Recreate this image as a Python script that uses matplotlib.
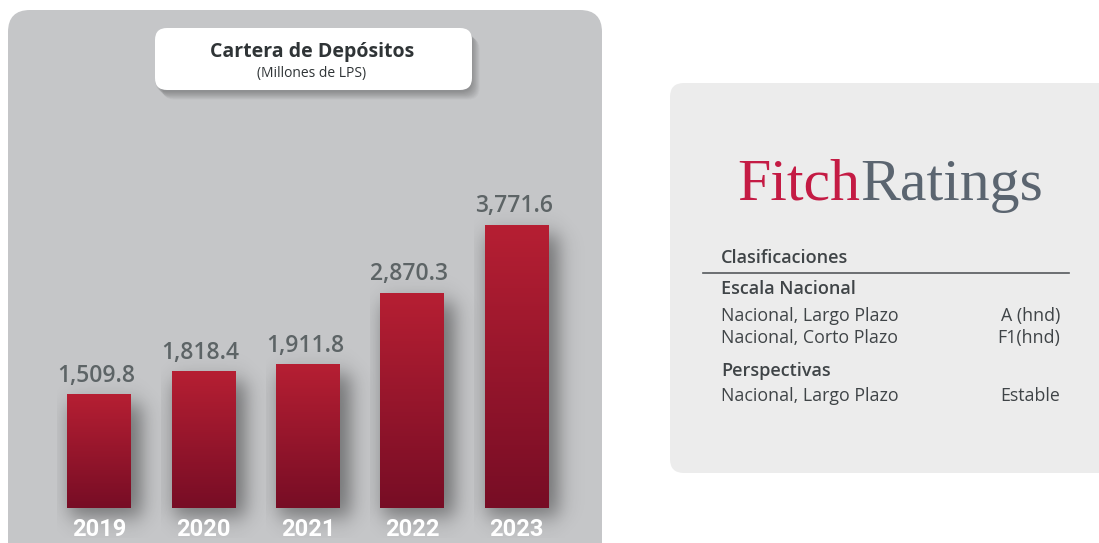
import numpy as np
import matplotlib.pyplot as plt
from matplotlib.patches import FancyBboxPatch
from matplotlib.colors import LinearSegmentedColormap

# data
years = ['2019', '2020', '2021', '2022', '2023']
depositos = [1509.8, 1818.4, 1911.8, 2870.3, 3771.6]

rating_rows = [('Nacional, Largo Plazo', 'A (hnd)'),
               ('Nacional, Corto Plazo', 'F1(hnd)')]
outlook_rows = [('Nacional, Largo Plazo', 'Estable')]

W, H = 1099, 543
fig = plt.figure(figsize=(W / 100, H / 100), dpi=100)
fig.patch.set_facecolor('white')

# background axes in pixel coords
bg = fig.add_axes([0, 0, 1, 1])
bg.set_xlim(0, W)
bg.set_ylim(H, 0)
bg.axis('off')

# left grey panel
bg.add_patch(FancyBboxPatch((8, 10), 594, 560, boxstyle='round,pad=0,rounding_size=22',
                            fc='#c5c6c8', ec='none', zorder=0))

# title box with soft shadow
for k in range(12):
    bg.add_patch(FancyBboxPatch((155 + k * 0.7, 30 + k * 0.7), 317, 62,
                                boxstyle='round,pad=0,rounding_size=12',
                                fc='black', ec='none', alpha=0.022, zorder=1))
bg.add_patch(FancyBboxPatch((155, 28), 317, 62, boxstyle='round,pad=0,rounding_size=12',
                            fc='white', ec='none', zorder=2))
bg.text(312, 52, 'Cartera de Depósitos', ha='center', va='center', fontsize=14,
        fontweight='bold', color='#2f3436', family='Open Sans', zorder=3)
bg.text(312, 74, '(Millones de LPS)', ha='center', va='center', fontsize=10,
        color='#2f3436', family='Open Sans', zorder=3)

# right info panel
bg.add_patch(FancyBboxPatch((670, 83), 460, 390, boxstyle='round,pad=0,rounding_size=14',
                            fc='#ececec', ec='none', zorder=0))
t1 = bg.text(737, 200, 'Fitch', ha='left', va='baseline', fontsize=43,
             color='#c41b44', family='Liberation Serif', zorder=3)
fig.canvas.draw()
bb = t1.get_window_extent().transformed(bg.transData.inverted())
bg.text(bb.x1, 200, 'Ratings', ha='left', va='baseline', fontsize=43,
        color='#5b6570', family='Liberation Serif', zorder=3)

txt = '#3f4447'
bg.text(721, 258, 'Clasificaciones', ha='left', va='center', fontsize=13,
        fontweight='semibold', color=txt, family='Open Sans')
bg.plot([703, 1069], [273, 273], color='#55595c', lw=1.2)
bg.text(721, 289, 'Escala Nacional', ha='left', va='center', fontsize=13,
        fontweight='semibold', color=txt, family='Open Sans')
for i, (lab, val) in enumerate(rating_rows):
    y = 316 + i * 22
    bg.text(721, y, lab, ha='left', va='center', fontsize=12.8, color=txt, family='Open Sans')
    bg.text(1060, y, val, ha='right', va='center', fontsize=12.8, color=txt, family='Open Sans')
bg.text(721, 371, 'Perspectivas', ha='left', va='center', fontsize=13,
        fontweight='semibold', color=txt, family='Open Sans')
for i, (lab, val) in enumerate(outlook_rows):
    y = 396 + i * 22
    bg.text(721, y, lab, ha='left', va='center', fontsize=12.8, color=txt, family='Open Sans')
    bg.text(1060, y, val, ha='right', va='center', fontsize=12.8, color=txt, family='Open Sans')

# bar chart axes
ax_left, ax_right = 47 / W, 569 / W
ax_bot, ax_top = (H - 508) / H, (H - 171) / H
ax = fig.add_axes([ax_left, ax_bot, ax_right - ax_left, ax_top - ax_bot])
ax.patch.set_alpha(0)
ax.axis('off')

x = np.arange(len(years))
bw = 0.613
bars = ax.bar(x, depositos, width=bw, color='none', zorder=3)

cmap = LinearSegmentedColormap.from_list('dep', ['#770d25', '#b61f33'])
grad = np.linspace(0, 1, 256).reshape(-1, 1)


def soft(t, lo, hi, s):
    return 0.5 * (np.tanh((t - lo) / s) - np.tanh((t - hi) / s))


for b, v, yr in zip(bars, depositos, years):
    x0, w, h = b.get_x(), b.get_width(), b.get_height()
    # soft blurred shadow, offset to the right
    sx0, sx1 = x0 - 0.1, x0 + w + 0.55
    sy0, sy1 = -400, h + 250
    xs = np.linspace(sx0, sx1, 120)
    ys = np.linspace(sy0, sy1, 160)
    XX, YY = np.meshgrid(xs, ys)
    a = 0.42 * soft(XX, x0 + 0.02, x0 + w + 0.1, 0.11) * soft(YY, -120, h - 120, 170)
    rgba = np.zeros(XX.shape + (4,))
    rgba[..., 3] = a
    ax.imshow(rgba, extent=(sx0, sx1, sy0, sy1), origin='lower', aspect='auto',
              zorder=1, clip_on=False, interpolation='bilinear')
    ax.imshow(grad, extent=(x0, x0 + w, 0, h), origin='lower', cmap=cmap,
              aspect='auto', zorder=3)
    ax.text(x0 + w / 2 - 0.03, h + 95, f'{v:,.1f}', ha='center', va='bottom', fontsize=16.5,
            fontweight='semibold', color='#5d6466', family='Open Sans', zorder=4)
    ax.text(x0 + w / 2, -285, yr, ha='center', va='center', fontsize=17,
            fontweight='bold', color='white', family='Roboto', zorder=4, clip_on=False)

ax.set_xlim(-0.5, 4.5)
ax.set_ylim(0, 4500)

plt.savefig('out.png', dpi=100)
